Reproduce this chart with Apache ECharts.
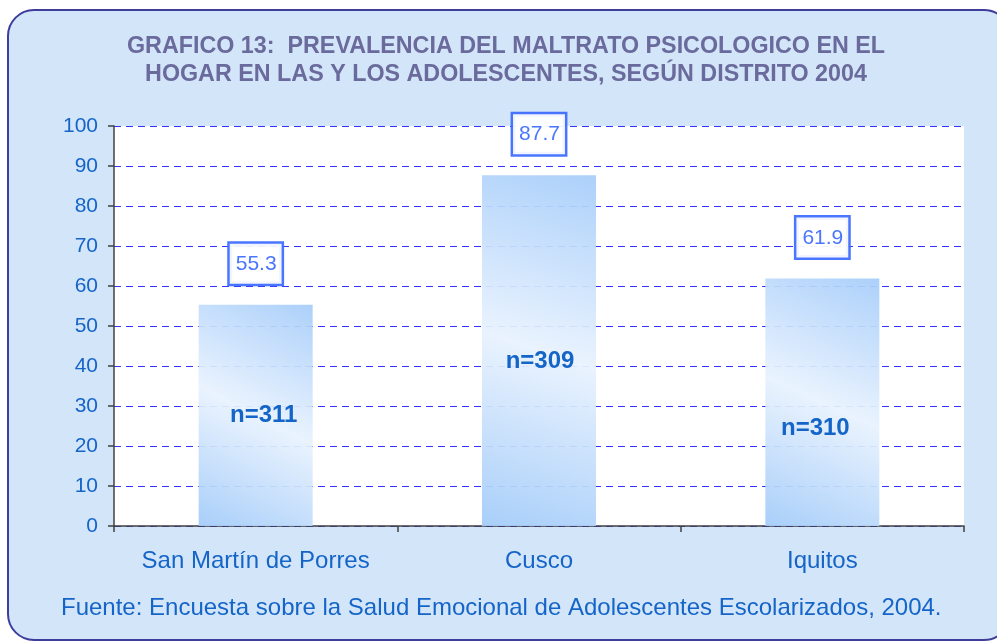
<!DOCTYPE html>
<html>
<head>
<meta charset="utf-8">
<script src="https://cdn.jsdelivr.net/npm/echarts@6/dist/echarts.min.js"></script>
<style>
html,body{margin:0;padding:0;background:#ffffff;}
#chart{width:997px;height:641px;}
</style>
</head>
<body>
<div id="chart"></div>
<script>
const categories = ['San Martín de Porres', 'Cusco', 'Iquitos'];
const prevalence = [55.3, 87.7, 61.9];
const sampleSizes = ['n=311', 'n=309', 'n=310'];
const yTicks = [0, 10, 20, 30, 40, 50, 60, 70, 80, 90, 100];
const titleLines = ['GRAFICO 13:  PREVALENCIA DEL MALTRATO PSICOLOGICO EN EL', 'HOGAR EN LAS Y LOS ADOLESCENTES, SEGÚN DISTRITO 2004'];
const sourceText = 'Fuente: Encuesta sobre la Salud Emocional de Adolescentes Escolarizados, 2004.';

// pixel offsets for the n= labels (style, not data)
const nLabelOffsets = [[8, 0], [1, 11], [-7, 26]];

const FONT = 'Liberation Sans, Arial, sans-serif';
const chart = echarts.init(document.getElementById('chart'), null, {renderer: 'canvas'});

const barGradient = new echarts.graphic.LinearGradient(0, 1, 1, 0, [
  {offset: 0, color: '#a2cbf9'},
  {offset: 0.5, color: '#e8f2fe'},
  {offset: 1, color: '#a6cdfa'}
]);

chart.setOption({
  animation: false,
  backgroundColor: 'transparent',
  graphic: [
    {
      type: 'rect', z: -10,
      shape: {x: 8, y: 10, width: 1002, height: 630, r: 26},
      style: {fill: '#d3e5f9', stroke: '#3d3d9c', lineWidth: 2}
    },
    {
      type: 'rect', z: -5,
      shape: {x: 114, y: 126, width: 850, height: 400},
      style: {fill: '#ffffff'}
    },
    {
      type: 'text', x: 506, y: 33,
      style: {
        text: titleLines.join('\n'), fill: '#6a6a9c',
        font: 'bold 23.3px ' + FONT, textAlign: 'center', lineHeight: 28
      }
    },
    {
      type: 'text', left: 61, top: 596,
      style: {text: sourceText, fill: '#1565c8', font: '24px ' + FONT}
    }
  ],
  grid: {left: 114, right: 33, top: 126, bottom: 115, containLabel: false},
  xAxis: {
    type: 'category',
    data: categories,
    axisLine: {lineStyle: {color: '#404040', width: 1.5}},
    axisTick: {show: true, interval: 0, length: 6, lineStyle: {color: '#404040', width: 1.5}},
    axisLabel: {interval: 0, hideOverlap: false, color: '#1565c8', fontSize: 24, fontFamily: FONT, margin: 23}
  },
  yAxis: {
    type: 'value', min: yTicks[0], max: yTicks[yTicks.length - 1], interval: 10,
    axisLine: {show: true, lineStyle: {color: '#404040', width: 1.5}},
    axisTick: {show: true, length: 6, lineStyle: {color: '#404040', width: 1.5}},
    axisLabel: {color: '#1565c8', fontSize: 21, fontFamily: FONT, margin: 16},
    splitLine: {show: true, lineStyle: {color: '#3333ff', type: [7, 5], width: 1}}
  },
  series: [
    {
      type: 'bar',
      data: prevalence,
      barWidth: 114,
      itemStyle: {color: barGradient, opacity: 0.93},
      label: {
        show: true, position: 'top', distance: 21,
        formatter: p => p.value.toFixed(1),
        color: '#3c6cff', fontSize: 21, fontFamily: FONT,
        backgroundColor: '#ffffff', borderColor: '#3c6cff', borderWidth: 2.5,
        padding: [10, 5, 9, 6]
      },
      z: 2
    },
    {
      type: 'bar',
      data: prevalence.map((v, i) => ({
        value: v,
        label: {offset: nLabelOffsets[i]}
      })),
      barWidth: 114,
      barGap: '-100%',
      itemStyle: {color: 'rgba(0,0,0,0)'},
      label: {
        show: true, position: 'inside',
        formatter: p => sampleSizes[p.dataIndex],
        color: '#1565c8', fontSize: 24, fontWeight: 'bold', fontFamily: FONT
      },
      z: 3,
      silent: true
    }
  ]
});
</script>
</body>
</html>
